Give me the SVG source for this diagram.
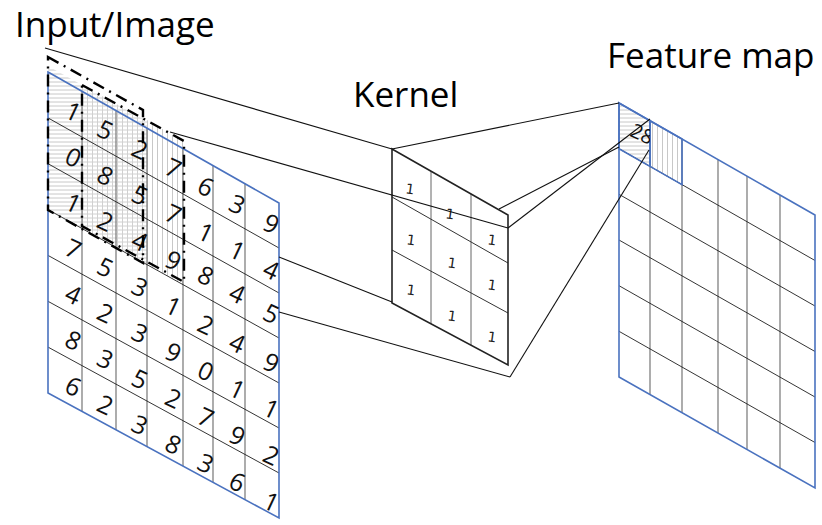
<svg xmlns="http://www.w3.org/2000/svg" width="822" height="525" viewBox="0 0 822 525">
  <defs>
    <pattern id="hatch-h" width="6" height="4" patternUnits="userSpaceOnUse">
      <path d="M0 2H6" stroke="#c8c8c8" stroke-width="1"/>
    </pattern>
    <pattern id="hatch-v" width="5" height="6" patternUnits="userSpaceOnUse">
      <path d="M2.5 0V6" stroke="#c8c8c8" stroke-width="1"/>
    </pattern>
    <pattern id="hatch-x" width="5" height="4" patternUnits="userSpaceOnUse">
      <path d="M0 2H5M2.5 0V4" stroke="#d0d0d0" stroke-width="1"/>
    </pattern>
    <clipPath id="fm-cell">
      <polygon points="619,103 650,120.7 650,166.4 619,148.7"/>
    </clipPath>
  </defs>
  <style>
    .title{font-family:"Open Sans","Liberation Sans",sans-serif;font-size:35px;fill:#000}
    .num{font-family:"Open Sans","Liberation Sans",sans-serif;font-size:25px;fill:#111;text-anchor:middle}
    .knum{font-family:"DejaVu Sans",sans-serif;font-size:14px;fill:#222;text-anchor:middle}
    .edge{fill:none;stroke:#4a72bf;stroke-width:1.6}
    .col{stroke:#808080;stroke-width:1.3}
    .row{stroke:#1e1e1e;stroke-width:0.9}
    .win{fill:none;stroke:#000;stroke-width:2.4;stroke-dasharray:12 6 2 6}
    .link{stroke:#111;stroke-width:1.1;fill:none}
  </style>

  <rect width="822" height="525" fill="#fff"/>

  <!-- input image: 7x7 grid in oblique view -->
  <g id="input-image">
    <text class="title" x="15" y="37">Input/Image</text>
    <!-- shaded receptive field -->
    <polygon points="48,66 82,85 82,228.5 48,209.6" fill="url(#hatch-h)"/>
    <polygon points="82,85 147,121 147,264.6 82,228.5" fill="url(#hatch-x)"/>
    <polygon points="147,120 183,141 183,284.6 147,264.6" fill="url(#hatch-v)"/>
    <!-- columns -->
    <line class="col" x1="82" y1="91.3" x2="82" y2="411.4"/>
    <line class="col" x1="116" y1="110.6" x2="116" y2="429.8"/>
    <line class="col" x1="147" y1="128.1" x2="147" y2="446.6"/>
    <line class="col" x1="183" y1="148.6" x2="183" y2="466.1"/>
    <line class="col" x1="213" y1="165.6" x2="213" y2="482.3"/>
    <line class="col" x1="245" y1="183.7" x2="245" y2="499.6"/>
    <!-- rows -->
    <line class="row" x1="48" y1="117.9" x2="279" y2="248"/>
    <line class="row" x1="48" y1="163.7" x2="279" y2="293"/>
    <line class="row" x1="48" y1="209.6" x2="279" y2="338"/>
    <line class="row" x1="48" y1="255.4" x2="279" y2="383"/>
    <line class="row" x1="48" y1="301.3" x2="279" y2="428"/>
    <line class="row" x1="48" y1="347.1" x2="279" y2="473"/>
    <polygon class="edge" points="48,72 279,203 279,518 48,393"/>
    <!-- values -->
    <g>
      <text class="num" transform="translate(73 112.1) rotate(25)" y="8.5">1</text>
      <text class="num" transform="translate(105 130.2) rotate(25)" y="8.5">5</text>
      <text class="num" transform="translate(139.5 149.7) rotate(25)" y="8.5">2</text>
      <text class="num" transform="translate(173 168.6) rotate(25)" y="8.5">7</text>
      <text class="num" transform="translate(205.5 187) rotate(25)" y="8.5">6</text>
      <text class="num" transform="translate(237 204.8) rotate(25)" y="8.5">3</text>
      <text class="num" transform="translate(271 224) rotate(25)" y="8.5">9</text>

      <text class="num" transform="translate(73 157.8) rotate(25)" y="8.5">0</text>
      <text class="num" transform="translate(105 176) rotate(25)" y="8.5">8</text>
      <text class="num" transform="translate(139.5 195.6) rotate(25)" y="8.5">5</text>
      <text class="num" transform="translate(173 214.6) rotate(25)" y="8.5">7</text>
      <text class="num" transform="translate(205.5 233.1) rotate(25)" y="8.5">1</text>
      <text class="num" transform="translate(237 251) rotate(25)" y="8.5">1</text>
      <text class="num" transform="translate(271 270.3) rotate(25)" y="8.5">4</text>

      <text class="num" transform="translate(73 203.6) rotate(25)" y="8.5">1</text>
      <text class="num" transform="translate(105 221.9) rotate(25)" y="8.5">2</text>
      <text class="num" transform="translate(139.5 241.6) rotate(25)" y="8.5">4</text>
      <text class="num" transform="translate(173 260.7) rotate(25)" y="8.5">9</text>
      <text class="num" transform="translate(205.5 276) rotate(25)" y="8.5">8</text>
      <text class="num" transform="translate(237 294) rotate(25)" y="8.5">4</text>
      <text class="num" transform="translate(271 314) rotate(25)" y="8.5">5</text>

      <text class="num" transform="translate(73 249.4) rotate(25)" y="8.5">7</text>
      <text class="num" transform="translate(105 267.8) rotate(25)" y="8.5">5</text>
      <text class="num" transform="translate(139.5 287.5) rotate(25)" y="8.5">3</text>
      <text class="num" transform="translate(173 306.8) rotate(25)" y="8.5">1</text>
      <text class="num" transform="translate(205.5 325.4) rotate(25)" y="8.5">2</text>
      <text class="num" transform="translate(237 343.6) rotate(25)" y="8.5">4</text>
      <text class="num" transform="translate(271 363.1) rotate(25)" y="8.5">9</text>

      <text class="num" transform="translate(73 295.1) rotate(25)" y="8.5">4</text>
      <text class="num" transform="translate(105 313.6) rotate(25)" y="8.5">2</text>
      <text class="num" transform="translate(139.5 333.5) rotate(25)" y="8.5">3</text>
      <text class="num" transform="translate(173 352.8) rotate(25)" y="8.5">9</text>
      <text class="num" transform="translate(205.5 371.6) rotate(25)" y="8.5">0</text>
      <text class="num" transform="translate(237 389.8) rotate(25)" y="8.5">1</text>
      <text class="num" transform="translate(271 409.4) rotate(25)" y="8.5">1</text>

      <text class="num" transform="translate(73 340.9) rotate(25)" y="8.5">8</text>
      <text class="num" transform="translate(105 359.5) rotate(25)" y="8.5">3</text>
      <text class="num" transform="translate(139.5 379.5) rotate(25)" y="8.5">5</text>
      <text class="num" transform="translate(173 398.9) rotate(25)" y="8.5">2</text>
      <text class="num" transform="translate(205.5 417.8) rotate(25)" y="8.5">7</text>
      <text class="num" transform="translate(237 436.1) rotate(25)" y="8.5">9</text>
      <text class="num" transform="translate(271 455.8) rotate(25)" y="8.5">2</text>

      <text class="num" transform="translate(73 386.7) rotate(25)" y="8.5">6</text>
      <text class="num" transform="translate(105 405.4) rotate(25)" y="8.5">2</text>
      <text class="num" transform="translate(139.5 425.4) rotate(25)" y="8.5">3</text>
      <text class="num" transform="translate(173 444.9) rotate(25)" y="8.5">8</text>
      <text class="num" transform="translate(205.5 463.9) rotate(25)" y="8.5">3</text>
      <text class="num" transform="translate(237 482.4) rotate(25)" y="8.5">6</text>
      <text class="num" transform="translate(271 502.2) rotate(25)" y="8.5">1</text>
    </g>
    <!-- sliding window outlines -->
    <polygon class="win" points="48,57 143,110 143,263 48,210"/>
    <polygon class="win" points="82,85 184,141 184,282 82,226"/>
  </g>

  <!-- kernel: 3x3 ones -->
  <g id="kernel">
    <text class="title" x="353" y="107">Kernel</text>
    <line x1="431" y1="171.2" x2="431" y2="323.8" stroke="#666" stroke-width="1"/>
    <line x1="471" y1="193.9" x2="471" y2="345.2" stroke="#666" stroke-width="1"/>
    <line x1="392" y1="197" x2="508" y2="263" stroke="#333" stroke-width="1"/>
    <line x1="392" y1="250" x2="508" y2="313" stroke="#333" stroke-width="1"/>
    <polygon points="392,149 508,215 508,365 392,303" fill="none" stroke="#222" stroke-width="1.6"/>
    <text class="knum" transform="translate(410 189) rotate(8)" y="5">1</text>
    <text class="knum" transform="translate(450 214) rotate(8)" y="5">1</text>
    <text class="knum" transform="translate(492 240) rotate(8)" y="5">1</text>
    <text class="knum" transform="translate(411 240) rotate(8)" y="5">1</text>
    <text class="knum" transform="translate(452 263) rotate(8)" y="5">1</text>
    <text class="knum" transform="translate(492 285) rotate(8)" y="5">1</text>
    <text class="knum" transform="translate(411 290) rotate(8)" y="5">1</text>
    <text class="knum" transform="translate(452 316) rotate(8)" y="5">1</text>
    <text class="knum" transform="translate(492 337) rotate(8)" y="5">1</text>
  </g>

  <!-- feature map: 6x6 grid -->
  <g id="feature-map">
    <text class="title" x="607" y="68">Feature map</text>
    <polygon points="619,103 650,120.7 650,166.4 619,148.7" fill="url(#hatch-h)"/>
    <polygon points="650,120.7 682,139 682,184.6 650,166.4" fill="url(#hatch-v)"/>
    <line class="col" x1="650" y1="120.7" x2="650" y2="394.6"/>
    <line class="col" x1="682" y1="139" x2="682" y2="412.7"/>
    <line class="col" x1="718" y1="159.6" x2="718" y2="433.1"/>
    <line class="col" x1="747" y1="176.1" x2="747" y2="449.5"/>
    <line class="col" x1="780" y1="195" x2="780" y2="468.2"/>
    <line class="row" x1="619" y1="148.7" x2="815" y2="260.5"/>
    <line class="row" x1="619" y1="194.3" x2="815" y2="306"/>
    <line class="row" x1="619" y1="240" x2="815" y2="351.5"/>
    <line class="row" x1="619" y1="285.7" x2="815" y2="397"/>
    <line class="row" x1="619" y1="331.3" x2="815" y2="442.5"/>
    <polygon class="edge" points="619,103 650,120.7 650,166.4 619,148.7"/>
    <polygon class="edge" points="650,120.7 682,139 682,184.6 650,166.4"/>
    <polygon class="edge" points="619,103 815,215 815,488 619,377"/>
    <g clip-path="url(#fm-cell)">
      <text class="num" style="font-size:20px" transform="translate(642 134) rotate(25)" y="7">28</text>
    </g>
  </g>

  <!-- projection lines -->
  <g id="connectors">
    <line class="link" x1="45" y1="48" x2="392" y2="149"/>
    <line class="link" x1="170" y1="132" x2="508" y2="228"/>
    <line class="link" x1="279" y1="257" x2="392" y2="302"/>
    <line class="link" x1="279" y1="312" x2="510" y2="377"/>
    <line class="link" x1="392" y1="149" x2="619" y2="103"/>
    <line class="link" x1="499" y1="209" x2="619" y2="147"/>
    <line class="link" x1="508" y1="228" x2="650" y2="119"/>
    <line class="link" x1="510" y1="377" x2="649" y2="150"/>
  </g>
</svg>
